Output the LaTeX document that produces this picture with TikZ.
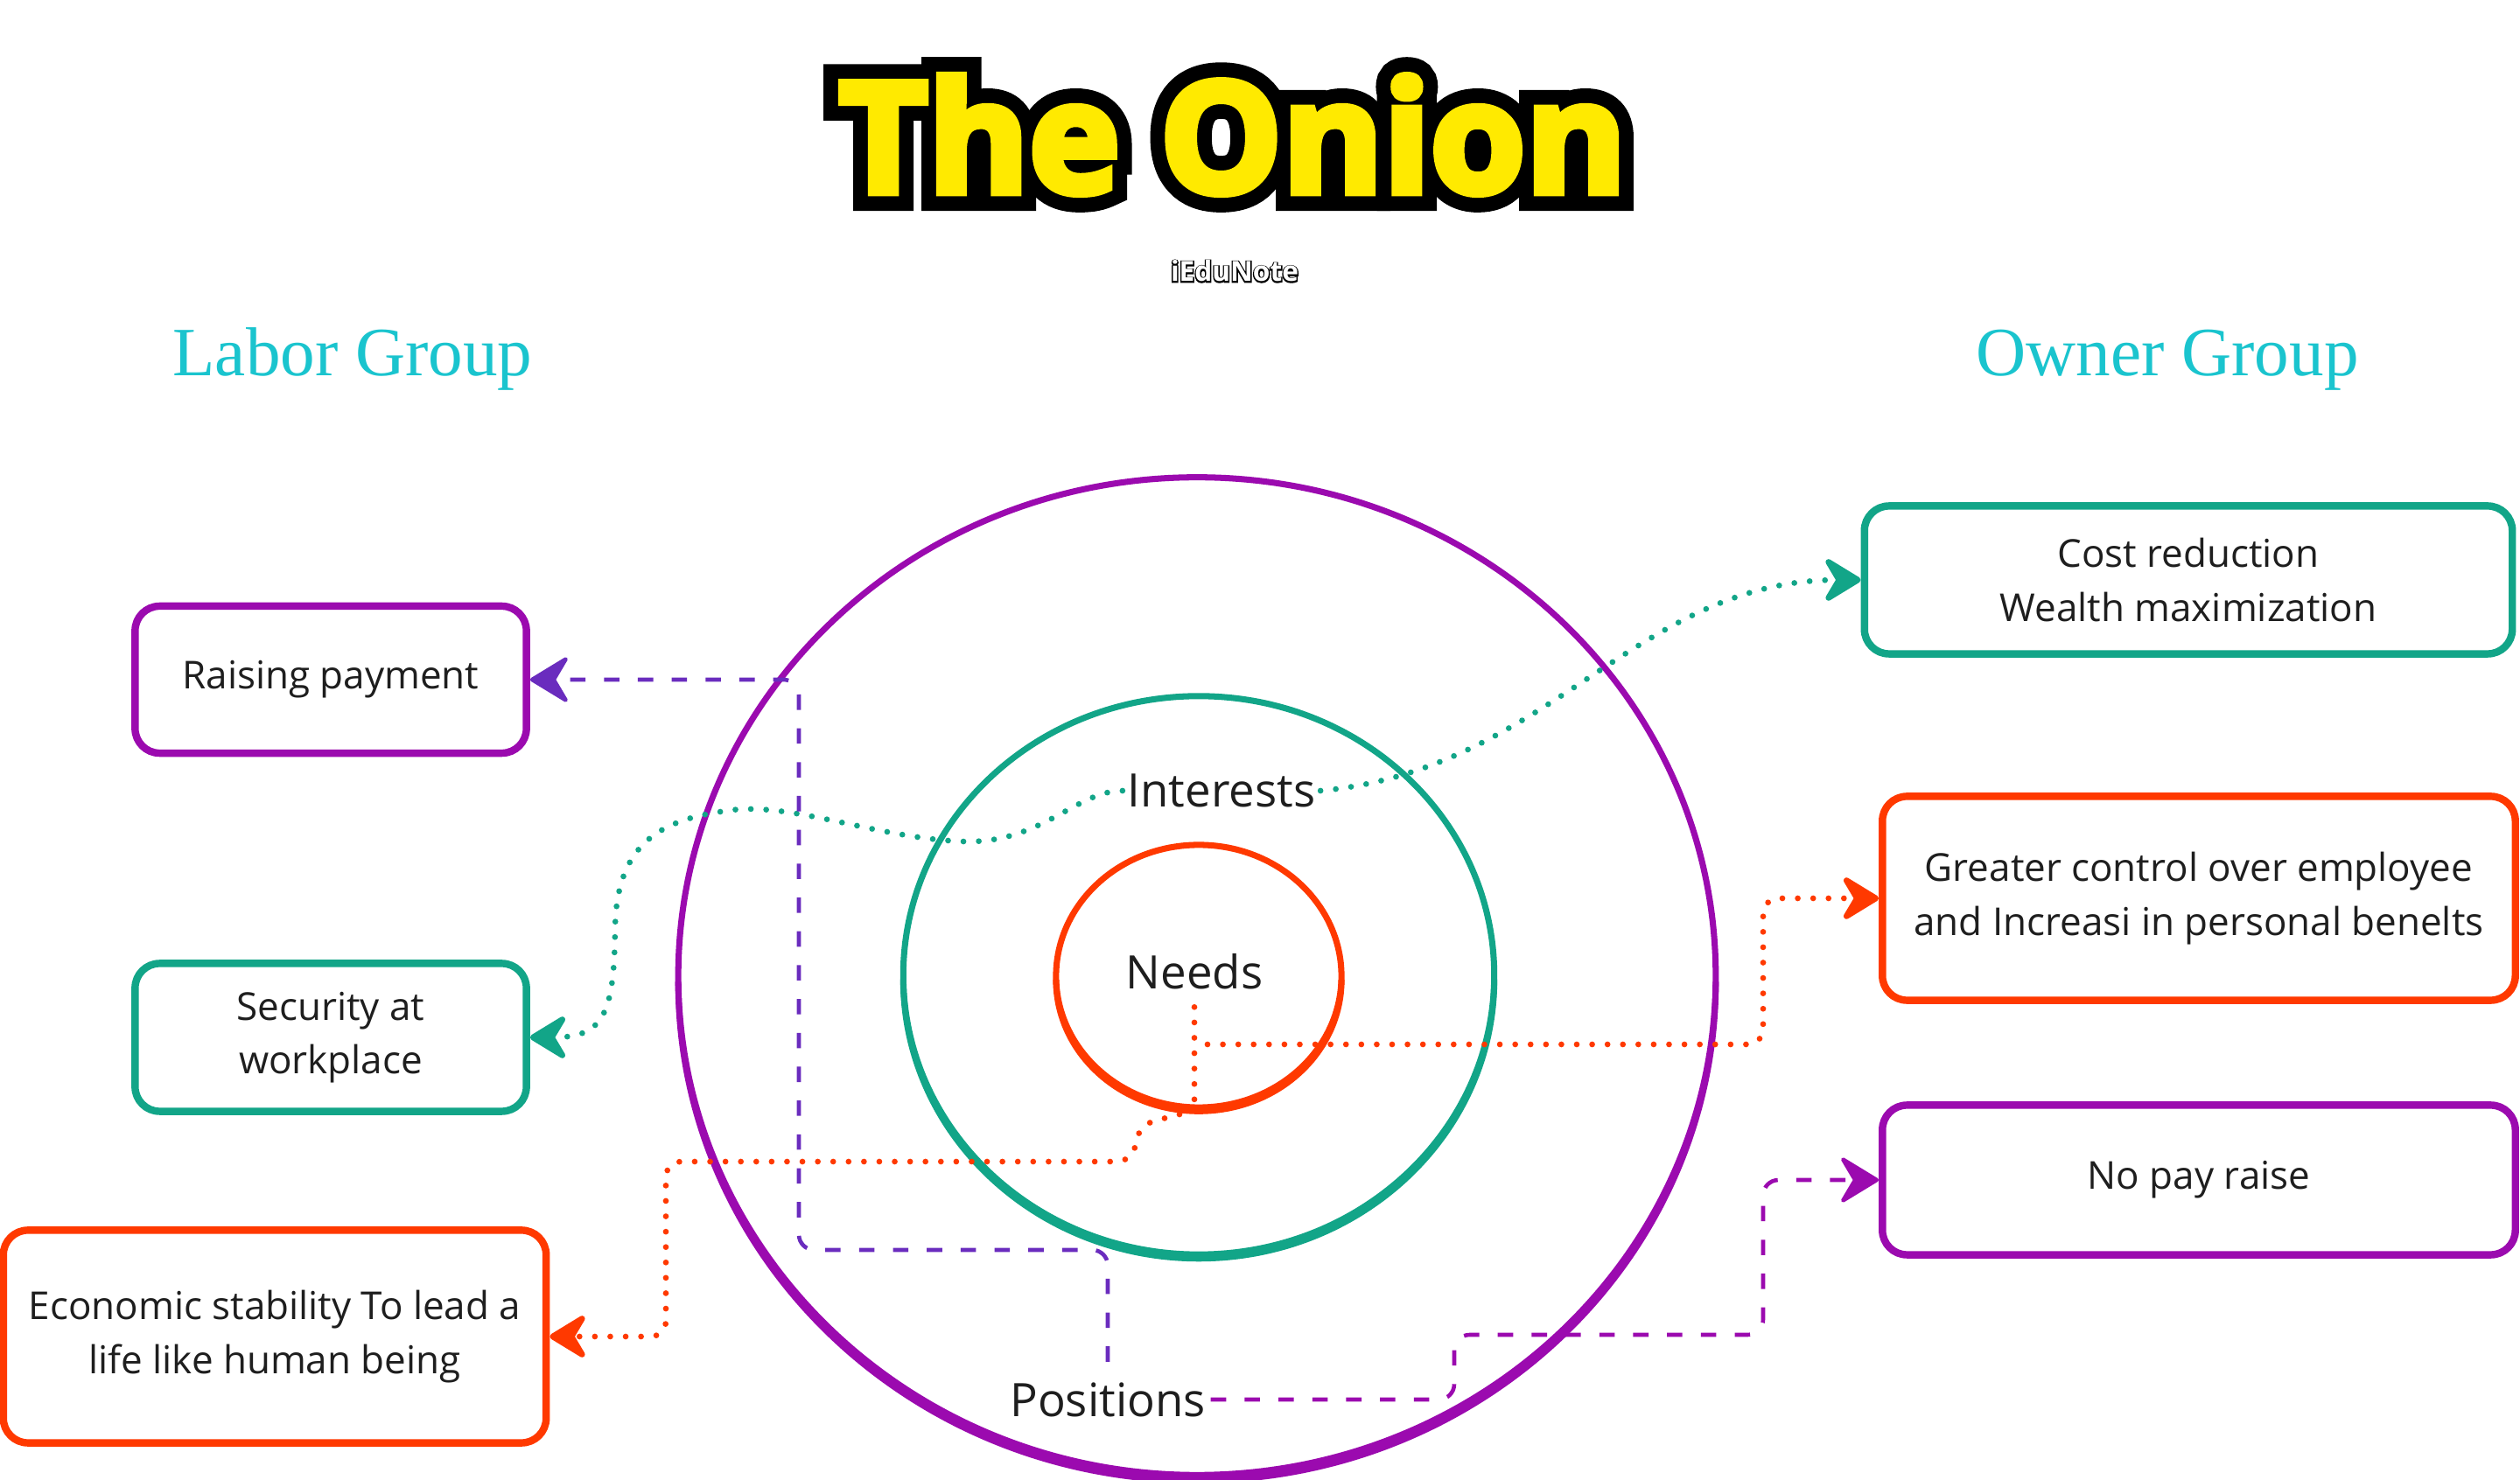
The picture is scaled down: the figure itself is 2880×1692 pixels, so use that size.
\documentclass[tikz,border=0pt]{standalone}
\usepackage{fontspec}
\setmainfont{Open Sans}
\newfontfamily\groupfont{Liberation Serif}
\newfontfamily\titlefill{Open Sans}[FakeBold=5]
\newfontfamily\titleoutline{Open Sans}[FakeBold=24]
\newfontfamily\brandoutline{Open Sans}[FakeBold=9]
\usetikzlibrary{shapes.geometric,arrows.meta,calc}
\definecolor{ringpurple}{RGB}{155,10,175}
\definecolor{laborviolet}{RGB}{106,44,190}
\definecolor{ringteal}{RGB}{18,165,136}
\definecolor{ringred}{RGB}{255,57,0}
\definecolor{headcyan}{RGB}{26,196,206}
\definecolor{titleyellow}{RGB}{255,234,0}
\definecolor{inkgray}{RGB}{30,30,30}
\tikzset{
    textnode/.style={align=center, inner sep=1.5pt, text=inkgray},
    ring/.style={ellipse, draw, line width=2pt, inner sep=0pt},
    ringfoot/.style={line width=2pt},
    sidebox/.style={textnode, draw, rounded corners=8pt, line width=2.4pt, fill=white, font=\fontsize{12.5}{17.4}\selectfont},
    ringlabel/.style={textnode, font=\fontsize{15}{18}\selectfont},
    grouplabel/.style={anchor=base, inner sep=0pt, text=headcyan, font=\groupfont\fontsize{22.5}{26}\selectfont},
    titletext/.style={anchor=base, inner sep=0pt},
    brandtext/.style={anchor=base, inner sep=0pt, font=\bfseries\fontsize{9}{11}\selectfont},
    dotlink/.style={line width=1.9pt, line cap=round, dash pattern=on 0pt off 5pt},
    dashlink/.style={line width=1.3pt, dash pattern=on 5pt off 6pt, rounded corners=5pt},
    linktip/.style={-{Stealth[length=14pt, width=17pt, inset=5pt, round]}}
}

\begin{document}
\begin{tikzpicture}[x=0.01cm, y=-0.01cm]
\fill[white] (0,0) rectangle (2880,1692);
\useasboundingbox (0,0) rectangle (2880,1692);

\node[titletext, text=black, font=\titleoutline\bfseries\fontsize{50}{60}\selectfont] (titleedge) at (1409,220) {The Onion};
\node[titletext, text=titleyellow, font=\titlefill\bfseries\fontsize{50}{60}\selectfont] (title) at (1409,220) {The Onion};
\node[brandtext, text=black, font=\brandoutline\bfseries\fontsize{9}{11}\selectfont] (brandedge) at (1411,322) {iEduNote};
\node[brandtext, text=white] (brand) at (1411,322) {iEduNote};

\node[grouplabel] (labor) at (403,430) {Labor Group};
\node[grouplabel] (owner) at (2477,430) {Owner Group};

\node[ring, draw=ringpurple, minimum width=11.85cm, minimum height=11.4cm] (outer) at (1368,1116) {};
\node[ring, draw=ringteal, minimum width=6.75cm, minimum height=6.38cm] (mid) at (1370,1115) {};
\node[ring, draw=ringred, minimum width=3.26cm, minimum height=3cm] (inner) at (1370,1116) {};
\draw[ringfoot, ringpurple] ([yshift=-1.8pt]outer.center) ++(180:5.925cm and 5.7cm) arc[start angle=180, end angle=360, x radius=5.925cm, y radius=5.7cm];
\draw[ringfoot, ringteal] ([yshift=-1.3pt]mid.center) ++(180:3.375cm and 3.19cm) arc[start angle=180, end angle=360, x radius=3.375cm, y radius=3.19cm];
\draw[ringfoot, ringred] ([yshift=-1.2pt]inner.center) ++(180:1.63cm and 1.5cm) arc[start angle=180, end angle=360, x radius=1.63cm, y radius=1.5cm];

\node[ringlabel] (int) at (1396,904) {Interests};
\node[ringlabel] (need) at (1365,1111) {Needs};
\node[ringlabel] (pos) at (1266,1600) {Positions};

\node[sidebox, draw=ringpurple, minimum width=4.47cm, minimum height=1.68cm] (raise) at (378,777) {Raising payment};
\node[sidebox, draw=ringteal, minimum width=4.47cm, minimum height=1.69cm] (secure) at (378,1186) {Security at\\workplace};
\node[sidebox, draw=ringred, minimum width=6.2cm, minimum height=2.43cm] (econ) at (314,1528) {Economic stability To lead a\\life like human being};
\node[sidebox, draw=ringteal, minimum width=7.4cm, minimum height=1.69cm] (cost) at (2501,663) {Cost reduction\\Wealth maximization};
\node[sidebox, draw=ringred, minimum width=7.23cm, minimum height=2.33cm] (ctrl) at (2513,1027) {Greater control over employee\\and Increasi in personal benelts};
\node[sidebox, draw=ringpurple, minimum width=7.23cm, minimum height=1.71cm] (nopay) at (2513,1349) {No pay raise};

\coordinate (nj) at (1380,1194);

\draw[dotlink, ringteal, linktip] (int.east) .. controls (1770,880) and (1870,663) .. (cost.west);
\draw[dotlink, ringteal, linktip] (int.west) .. controls (1230,904) and (1190,965) .. (1100,962)
    .. controls (1000,958) and (900,915) .. (830,927)
    .. controls (760,937) and (705,960) .. (703,1060)
    .. controls (702,1160) and (690,1186) .. (secure.east);
\draw[dotlink, ringred] ([yshift=-4pt]need.south) -- (need.south |- inner.south);
\draw[dotlink, ringred, linktip, rounded corners=5pt] (nj) -- (2015,1194) |- (ctrl.west);
\draw[dotlink, ringred, linktip, rounded corners=5pt] (need.south |- inner.south) -- (1302,1286) -- (1294,1328) -- (761,1328) |- (econ.east);
\draw[dashlink, laborviolet, linktip] ([yshift=5pt]pos.north) |- (913,1429) |- (raise.east);
\draw[dashlink, ringpurple, linktip] (pos.east) -| (1662,1526) -| (2015,1349) -- (nopay.west);

\end{tikzpicture}
\end{document}
